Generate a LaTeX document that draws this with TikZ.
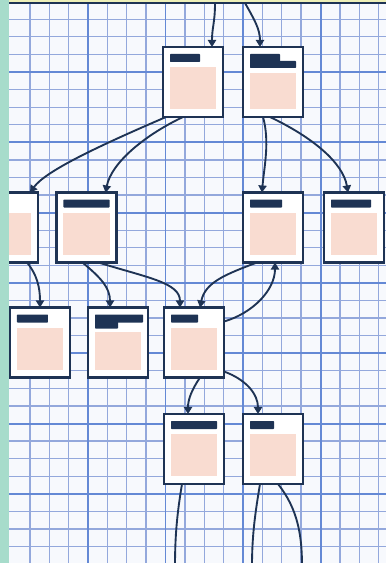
\documentclass[tikz,border=0pt]{standalone}
\usetikzlibrary{calc, arrows.meta}
\definecolor{navy}{HTML}{1E3354}
\definecolor{paper}{HTML}{F7F9FD}
\definecolor{gridlo}{HTML}{93A8DC}
\definecolor{gridhi}{HTML}{6489D5}
\definecolor{cardpink}{HTML}{F9DCD1}
\definecolor{mint}{HTML}{A7DCCB}
\definecolor{topband}{HTML}{EEF0B8}
\tikzset{
    gridminor/.style={gridlo, line width=1.1pt},
    gridmajor/.style={gridhi, line width=1.7pt},
    card/.style={draw=navy, line width=2pt, fill=white, minimum width=1.8cm,
        minimum height=2.1cm, inner sep=0pt, outer sep=0pt},
    cardtitle/.style={fill=navy, rounded corners=0.6pt},
    cardbody/.style={fill=cardpink},
    link/.style={draw=navy, line width=1.6pt, -{Triangle[length=6pt, width=7pt]}},
    tail/.style={draw=navy, line width=1.6pt},
}

\begin{document}
\begin{tikzpicture}[x=0.03cm, y=-0.03cm]
            \useasboundingbox (0, 0) rectangle (386, 563);
            \fill[paper] (0, 0) rectangle (386, 563);
            % squared paper
            \foreach \i in {0, ..., 18}{
                \draw[gridminor] (29.875+19.375*\i, 0) -- (29.875+19.375*\i, 563);
            }
            \foreach \j in {0, ..., 32}{
                \draw[gridminor] (0, 1.7+17.575*\j) -- (386, 1.7+17.575*\j);
            }
            \foreach \i in {0, 1, 2, 3}{
                \draw[gridmajor] (88+77.5*\i, 0) -- (88+77.5*\i, 563);
            }
            \foreach \j in {1, ..., 7}{
                \draw[gridmajor] (0, 1.7+70.3*\j) -- (386, 1.7+70.3*\j);
            }
            % cards
            \foreach \n/\cx/\cy/\tw/\pd in {a/193/82/30/20, b/273/82/30/26,
                c/8/227.5/20/20, d/86.5/227.5/46/20, e/273/227.5/32/20,
                f/354/227.5/40/20, g/40/342.5/31/20, h/118/342.5/48/24,
                i/194/342.5/27/20, j/194/449/46/20, k/273/449/24/20}{
                \node[card] (\n) at (\cx, \cy) {};
                \fill[cardbody] ($(\n.north west)+(7, \pd)$)
                    rectangle ($(\n.north west)+(53, 62)$);
                \fill[cardtitle] ($(\n.north west)+(7, 7)$) rectangle ++(\tw, 8);
            }
            \fill[cardtitle] ($(b.north west)+(7, 14)$) rectangle ++(46, 7);
            \fill[cardtitle] ($(h.north west)+(7, 14)$) rectangle ++(23, 7);
            % links
            \coordinate (top1) at (215, 3);
            \coordinate (top2) at (245, 3);
            \coordinate (bot1) at (175, 566);
            \coordinate (bot2) at (252, 566);
            \coordinate (bot3) at (302, 566);
            \draw[link] (top1) .. controls +(0, 20) and +(0, -20)
                .. ($(a.north west)+(49, 0)$);
            \draw[link] (top2) .. controls +(9, 16) and +(0, -18)
                .. ($(b.north west)+(17, 0)$);
            \draw[link] ($(a.south west)+(3, 0)$) .. controls +(-65, 28) and +(16, -22)
                .. ($(c.north west)+(52, 0)$);
            \draw[link] ($(a.south west)+(20, 0)$) .. controls +(-38, 18) and +(6, -30)
                .. ($(d.north west)+(49, 0)$);
            \draw[link] ($(b.south west)+(20, 0)$) .. controls +(7, 25) and +(2, -25)
                .. ($(e.north west)+(19, 0)$);
            \draw[link] ($(b.south west)+(27, 0)$) .. controls +(42, 20) and +(-5, -30)
                .. ($(f.north west)+(24, 0)$);
            \draw[link] ($(c.south west)+(49, 0)$) .. controls +(10, 12) and +(0, -20)
                .. (g.north);
            \draw[link] ($(d.south west)+(26, 0)$) .. controls +(18, 15) and +(0, -20)
                .. ($(h.north west)+(22, 0)$);
            \draw[link] ($(d.south west)+(42, 0)$) .. controls +(48, 15) and +(0, -25)
                .. ($(i.north west)+(16, 0)$);
            \draw[link] ($(e.south west)+(14, 0)$) .. controls +(-32, 12) and +(5, -25)
                .. ($(i.north west)+(36, 0)$);
            \draw[link] ($(i.north east)+(0, 14)$) .. controls +(28, -8) and +(0, 28)
                .. ($(e.south west)+(32, 0)$);
            \draw[link] ($(i.south west)+(36, 0)$) .. controls +(-8, 12) and +(0, -15)
                .. ($(j.north west)+(24, 0)$);
            \draw[link] ($(i.south east)+(0, -6)$) .. controls +(22, 8) and +(0, -20)
                .. ($(k.north west)+(15, 0)$);
            \draw[tail] ($(j.south west)+(18, 0)$) .. controls +(-5, 30) and +(0, -30)
                .. (bot1);
            \draw[tail] ($(k.south west)+(17, 0)$) .. controls +(-5, 30) and +(0, -30)
                .. (bot2);
            \draw[tail] ($(k.south west)+(35, 0)$) .. controls +(20, 25) and +(0, -30)
                .. (bot3);
            % page edges
            \fill[topband] (0, 0) rectangle (386, 1.6);
            \draw[navy, line width=1.2pt] (0, 2.8) -- (386, 2.8);
            \fill[mint] (0, 0) rectangle (8.5, 563);
        \end{tikzpicture}
\end{document}
